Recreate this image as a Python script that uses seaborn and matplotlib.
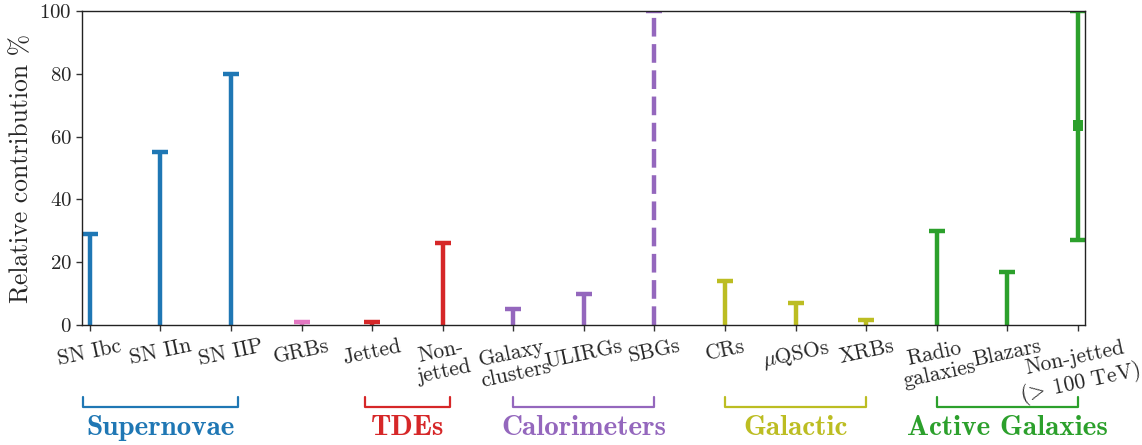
import numpy as np
import matplotlib
matplotlib.use("Agg")
import matplotlib.pyplot as plt
import matplotlib.transforms as mtransforms
from matplotlib.lines import Line2D
import seaborn as sns

# ---- data ----
categories = ["SN Ibc", "SN IIn", "SN IIP", "GRBs", "Jetted", "Non-\njetted",
              "Galaxy\nclusters", "ULIRGs", "SBGs", "CRs", r"$\mu$QSOs", "XRBs",
              "Radio\ngalaxies", "Blazars", "Non-jetted\n($\\!>\\!$ 100 TeV)"]
upper = [29, 55, 80, 1, 1, 26, 5, 10, 100, 14, 7, 1.5, 30, 17, 100]
lower = [0, 0, 0, 0, 0, 0, 0, 0, 0, 0, 0, 0, 0, 0, 27]
central = [np.nan] * 14 + [63.5]
is_dashed = [False] * 8 + [True] + [False] * 6
colors = ["#1f77b4", "#1f77b4", "#1f77b4", "#e377c2", "#d62728", "#d62728",
          "#9467bd", "#9467bd", "#9467bd", "#bcbd22", "#bcbd22", "#bcbd22",
          "#2ca02c", "#2ca02c", "#2ca02c"]

groups = ["Supernovae", "TDEs", "Calorimeters", "Galactic", "Active Galaxies"]
group_start = [-0.1, 3.9, 6, 9, 12]
group_end = [2.1, 5.1, 8, 11, 14]
group_colors = ["#1f77b4", "#d62728", "#9467bd", "#bcbd22", "#2ca02c"]

# ---- style ----
sns.set_style("ticks")
plt.rcParams["font.family"] = ["cmr10", "DejaVu Serif"]
plt.rcParams["mathtext.fontset"] = "cm"
plt.rcParams["axes.formatter.use_mathtext"] = True
plt.rcParams["axes.unicode_minus"] = False

fig = plt.figure(figsize=(11.42, 4.45), dpi=100)
ax = fig.add_axes([0.0718, 0.2697, 0.8783, 0.7056])

x = np.arange(len(categories))
lw = 3.2
for xi, lo, hi, c, d in zip(x, lower, upper, colors, is_dashed):
    if d:
        ax.plot([xi, xi], [lo, hi], color=c, lw=lw, dashes=(4.2, 1.7), solid_capstyle="butt")
    else:
        ax.plot([xi, xi], [lo, hi], color=c, lw=lw, solid_capstyle="butt")
    ax.plot([xi], [hi], marker="_", ms=11, mew=lw, color=c)
    if lo > 0:
        ax.plot([xi], [lo], marker="_", ms=11, mew=lw, color=c)

mask = ~np.isnan(central)
sns.scatterplot(x=x[mask], y=np.array(central)[mask], marker="s", s=60,
                color=np.array(colors)[mask][0], edgecolor="none", ax=ax, zorder=5)

ax.set_xlim(-0.11, 14.1)
ax.set_ylim(0, 100)
ax.set_xticks(x)
ax.set_xticklabels(categories, rotation=12, ha="center", fontsize=15.5, linespacing=1.1)
ax.set_yticks([0, 20, 40, 60, 80, 100])
ax.tick_params(axis="y", labelsize=15)
ax.tick_params(axis="both", length=4, width=1, color="#333333")
ax.tick_params(axis="x", pad=4)
ax.set_ylabel("Relative contribution %", fontsize=18.5, labelpad=4)
for s in ax.spines.values():
    s.set_linewidth(1.0)
    s.set_color("#222222")

trans = mtransforms.blended_transform_factory(ax.transData, fig.transFigure)
for name, s0, e0, c in zip(groups, group_start, group_end, group_colors):
    fig.add_artist(Line2D([s0, s0, e0, e0], [0.108, 0.086, 0.086, 0.108],
                          transform=trans, color=c, lw=1.6))
    fig.text((s0 + e0) / 2, 0.038, name, transform=trans, ha="center", va="center",
             fontsize=21, color=c, family=["cmb10", "DejaVu Serif"])

fig.savefig("out.png", dpi=100)
